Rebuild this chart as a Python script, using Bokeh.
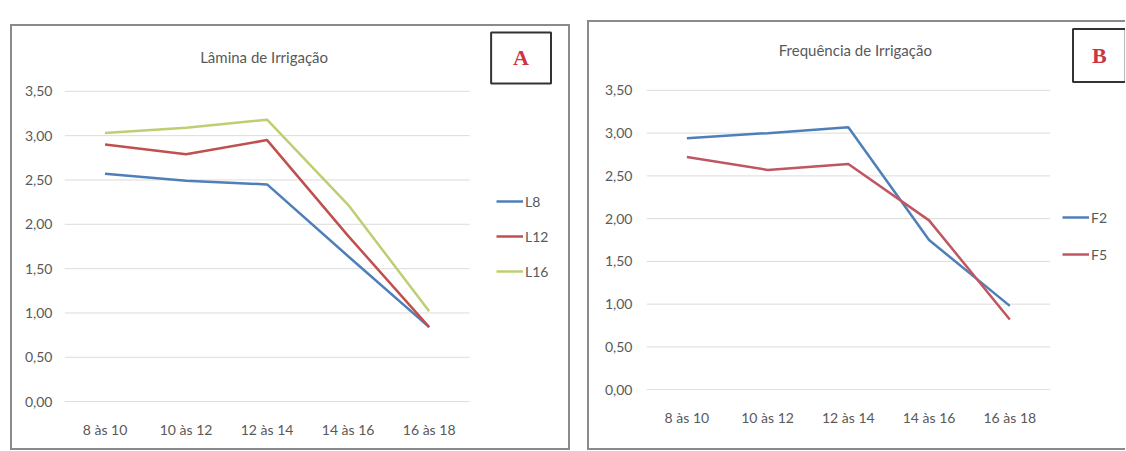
from bokeh.plotting import figure
from bokeh.models import FixedTicker, Legend, LegendItem, Label, Range1d
from bokeh.embed import file_html
from bokeh.resources import INLINE

categories = ["8 às 10", "10 às 12", "12 às 14", "14 às 16", "16 às 18"]
y_ticks = [0, 0.5, 1.0, 1.5, 2.0, 2.5, 3.0, 3.5]
y_tick_labels = ["0,00", "0,50", "1,00", "1,50", "2,00", "2,50", "3,00", "3,50"]

title_a = "Lâmina de Irrigação"
names_a = ["L8", "L12", "L16"]
L8 = [2.57, 2.49, 2.45, 1.64, 0.84]
L12 = [2.90, 2.79, 2.95, 1.87, 0.84]
L16 = [3.03, 3.09, 3.18, 2.22, 1.02]
colors_a = ["#4f7fb8", "#c0504d", "#bccf72"]

title_b = "Frequência de Irrigação"
names_b = ["F2", "F5"]
F2 = [2.94, 3.00, 3.07, 1.75, 0.98]
F5 = [2.72, 2.57, 2.64, 1.98, 0.82]
colors_b = ["#4f7fb8", "#bf5661"]

GRAY = "#595959"
FONT = "Lato"
BORDER = "2px solid #8a8a8a"

# category slots on a numeric axis: slot i is centred at i + 0.5
x_pos = [i + 0.5 for i in range(len(categories))]


def make_panel(title, names, series, colors, width, height, mb, xr, yr,
               ystandoff, legend_loc, legend_spacing, title_pos, letter,
               letter_pos, letter_pad, styles):
    p = figure(x_range=Range1d(*xr), y_range=Range1d(*yr),
               width=width, height=height, output_backend="svg",
               toolbar_location=None, min_border_left=mb[0],
               min_border_right=mb[1], min_border_top=mb[2],
               min_border_bottom=mb[3])
    p.styles = styles
    p.outline_line_color = None
    p.background_fill_color = "white"
    p.border_fill_color = "white"
    p.xgrid.grid_line_color = None
    p.ygrid.grid_line_color = None

    p.xaxis.ticker = FixedTicker(ticks=x_pos)
    p.xaxis.major_label_overrides = {x: c for x, c in zip(x_pos, categories)}
    p.yaxis.ticker = FixedTicker(ticks=y_ticks)
    p.yaxis.major_label_overrides = {t: s for t, s in zip(y_ticks, y_tick_labels)}
    for ax in (p.xaxis[0], p.yaxis[0]):
        ax.axis_line_color = None
        ax.major_tick_line_color = None
        ax.minor_tick_line_color = None
        ax.major_tick_out = 0
        ax.major_tick_in = 0
        ax.minor_tick_out = 0
        ax.axis_label_standoff = 0
        ax.axis_label_text_font_size = "1px"
        ax.major_label_text_font = FONT
        ax.major_label_text_font_size = "14px"
        ax.major_label_text_color = GRAY
    p.xaxis.major_label_standoff = 18
    p.yaxis.major_label_standoff = ystandoff

    # horizontal gridlines across the category slots only
    n = len(y_ticks)
    p.segment(x0=[0] * n, x1=[len(categories)] * n, y0=y_ticks, y1=y_ticks,
              line_color="#dcdcdc", line_width=1)

    items = []
    for name, vals, col in zip(names, series, colors):
        r = p.line(x_pos, vals, line_color=col, line_width=2.5)
        items.append(LegendItem(label=name, renderers=[r]))
    leg = Legend(items=items, location=legend_loc, glyph_width=27,
                 glyph_height=20, label_height=20, spacing=legend_spacing,
                 padding=0, margin=0, border_line_color=None,
                 background_fill_alpha=0, label_standoff=2,
                 label_text_font=FONT, label_text_font_size="14px",
                 label_text_color=GRAY)
    p.add_layout(leg)

    p.add_layout(Label(x=title_pos[0], y=title_pos[1], text=title,
                       text_align="center", text_baseline="middle",
                       text_font=FONT, text_font_size="15px",
                       text_color=GRAY))

    p.add_layout(Label(x=letter_pos[0], y=letter_pos[1], text=letter,
                       text_align="center", text_baseline="middle",
                       text_font="Liberation Serif", text_font_style="bold",
                       text_font_size="22px", text_color="#cc3344",
                       border_line_color="#333333", border_line_width=2,
                       background_fill_color="white", padding=letter_pad))
    return p


pA = make_panel(title_a, names_a, [L8, L12, L16], colors_a, 556, 422,
                (52, 0, 0, 50), (0, 6.2687), (-0.01, 4.2313), 12,
                (432, 121), 15, (2.463, 3.888), "A", (5.634, 3.876), (22, 13),
                {"position": "absolute", "left": "10px", "top": "24px",
                 "box-sizing": "content-box", "border-top": BORDER,
                 "border-left": BORDER, "border-right": BORDER,
                 "border-bottom": BORDER})
pB = make_panel(title_b, names_b, [F2, F5], colors_b, 536, 426,
                (57, 0, 0, 62), (0, 5.958), (-0.01, 4.294), 14,
                (416, 126), 17, (2.587, 3.973), "B", (5.609, 3.908), (19, 14),
                {"position": "absolute", "left": "587px", "top": "20px",
                 "box-sizing": "content-box", "border-top": BORDER,
                 "border-left": BORDER, "border-bottom": BORDER})

open("out.html", "w").write(file_html([pA, pB], INLINE))
